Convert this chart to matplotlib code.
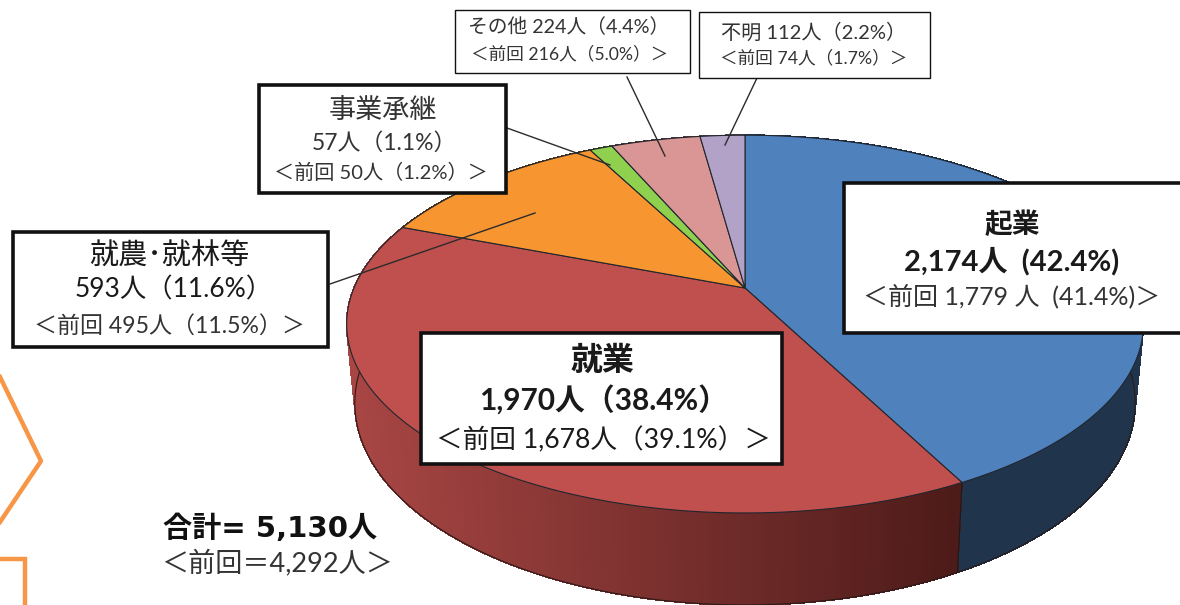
import matplotlib
matplotlib.use('Agg')
import matplotlib.pyplot as plt
import numpy as np
from matplotlib.patches import Polygon, Rectangle

plt.rcParams['font.family'] = ['Lato', 'Noto Sans CJK JP']

# data, clockwise from 12 o'clock
names = ['起業', '就業', '就農･就林等', '事業承継', 'その他', '不明']
people = [2174, 1970, 593, 57, 224, 112]
shares = [42.4, 38.4, 11.6, 1.1, 4.4, 2.2]
prev_people = [1779, 1678, 495, 50, 216, 74]
prev_shares = [41.4, 39.1, 11.5, 1.2, 5.0, 1.7]
total = 5130
prev_total = 4292

colors = ['#4f81bd', '#c0504d', '#f79631', '#8fd14f', '#d99694', '#b2a2c7']

# pie projection, picked to fit the tilted disc
P = 0.191
TOP = dict(x0=745, y0=288, a=391, b=182)
BOTTOM = dict(x0=745, y0=364.4, a=383, b=194.6)


def project(theta, x0, y0, a, b):
    u, v = np.sin(theta), np.cos(theta)
    d = 1 + P * v
    return x0 + a * u / d, y0 - b * v / d


def mix(c1, c2, t):
    c1, c2 = np.array(matplotlib.colors.to_rgb(c1)), np.array(matplotlib.colors.to_rgb(c2))
    return c1 + (c2 - c1) * t


fig = plt.figure(figsize=(11.8, 6.05), dpi=100)
ax = fig.add_axes([0, 0, 1, 1])
ax.set_xlim(0, 1180)
ax.set_ylim(605, 0)
ax.axis('off')

edges = np.concatenate([[0], np.cumsum(people)]) / sum(people) * 2 * np.pi

#%% side wall

for i in range(len(people)):
    th = np.linspace(edges[i], edges[i + 1], max(3, int((edges[i + 1] - edges[i]) * 90)))
    for t0, t1 in zip(th[:-1], th[1:]):
        x1, y1 = project(t0, **TOP)
        x2, y2 = project(t1, **TOP)
        x3, y3 = project(t1, **BOTTOM)
        x4, y4 = project(t0, **BOTTOM)
        if i == 1:
            f = np.clip((x1 - 350) / (960 - 350), 0, 1)
            c = mix('#a84644', '#4d1b19', f)
        else:
            c = mix(colors[i], '#000000', 0.6)
        ax.add_patch(Polygon([(x1, y1), (x2, y2), (x3, y3), (x4, y4)], closed=True,
                             fc=c, ec=c, lw=0.6, antialiased=False, zorder=1))

th = np.linspace(np.pi / 2 - 0.05, 3 * np.pi / 2 + 0.3, 200)
bx, by = project(th, **BOTTOM)
ax.plot(bx, by, color='#2a1a1a', lw=0.8, zorder=1.5)
sx = [project(edges[1], **TOP)[0], project(edges[1], **BOTTOM)[0]]
sy = [project(edges[1], **TOP)[1], project(edges[1], **BOTTOM)[1]]
ax.plot(sx, sy, color='#1a1a1a', lw=0.8, zorder=1.5)

#%% top surface

for i in range(len(people)):
    th = np.linspace(edges[i], edges[i + 1], 120)
    rx, ry = project(th, **TOP)
    pts = [(TOP['x0'], TOP['y0'])] + list(zip(rx, ry))
    ax.add_patch(Polygon(pts, closed=True, fc=colors[i], ec='#20262e', lw=0.8, zorder=2))

#%% leader lines

leaders = [((330, 284), (535, 213)), ((507, 128), (610, 165)),
           ((627, 77), (665, 156)), ((757, 78), (725, 145))]
for (x1, y1), (x2, y2) in leaders:
    ax.plot([x1, x2], [y1, y2], color='#2b2b2b', lw=1.0, zorder=2.5)

#%% label boxes

boxes = [
    (844, 183, 1200, 333, 2.6),
    (421, 333, 782, 464, 2.6),
    (13, 232, 328, 347, 2.6),
    (259, 85, 506, 193, 2.6),
    (455, 10, 690, 73, 1.0),
    (699, 12, 930, 78, 1.0),
]
for x1, y1, x2, y2, w in boxes:
    ax.add_patch(Rectangle((x1, y1), x2 - x1, y2 - y1, fc='white', ec='#111111', lw=w, zorder=3))

DARK = '#1a1a1a'
GREY = '#333333'


def txt(x, y, s, size, weight='normal', color=DARK):
    ax.text(x, y, s, fontsize=size, fontweight=weight, color=color, ha='center', va='center', zorder=4)


def cur(i):
    return f'{people[i]:,}人（{shares[i]}%）'


def old(i):
    return f'＜前回 {prev_people[i]:,}人（{prev_shares[i]}%）＞'


txt(1012, 225, names[0], 20, 'bold')
txt(1012, 261, f'{people[0]:,}人  ({shares[0]}%)', 21, 'bold')
txt(1012, 296, f'＜前回 {prev_people[0]:,} 人  ({prev_shares[0]}%)＞', 18, color=GREY)

txt(602, 360, names[1], 23, 'bold')
txt(604, 401, cur(1), 21.5, 'bold')
txt(603, 440, old(1), 19.2)

txt(169, 256, names[2], 21, color=DARK)
txt(174, 290, cur(2), 19)
txt(169, 326, old(2), 16.6, color=GREY)

txt(383, 110, names[3], 19.5, color=GREY)
txt(384, 143, cur(3), 16.5, color=GREY)
txt(381, 172, old(3), 14.5, color=GREY)

txt(569, 27, f'{names[4]} {people[4]}人（{shares[4]}%）', 14.2, color=GREY)
txt(570, 54, old(4), 12.7, color=GREY)
txt(814, 32, f'{names[5]} {people[5]}人（{shares[5]}%）', 14.5, color=GREY)
txt(814, 58, old(5), 12.7, color=GREY)

ax.text(270, 529, f'合計= {total:,}人', fontsize=21, fontweight='bold', color='#111111',
        ha='center', va='center', family=['DejaVu Sans', 'Noto Sans CJK JP'])
ax.text(277, 563, f'＜前回＝{prev_total:,}人＞', fontsize=19.5, color=GREY, ha='center', va='center')

#%% bits of other slide shapes at the lower left

ax.plot([0, 41, 0], [377, 461, 522], color='#f79646', lw=3.2, solid_joinstyle='round', clip_on=True)
ax.plot([0, 25, 25], [559, 559, 605], color='#f79646', lw=3.2, solid_joinstyle='miter')

fig.savefig('out.png', dpi=100)
